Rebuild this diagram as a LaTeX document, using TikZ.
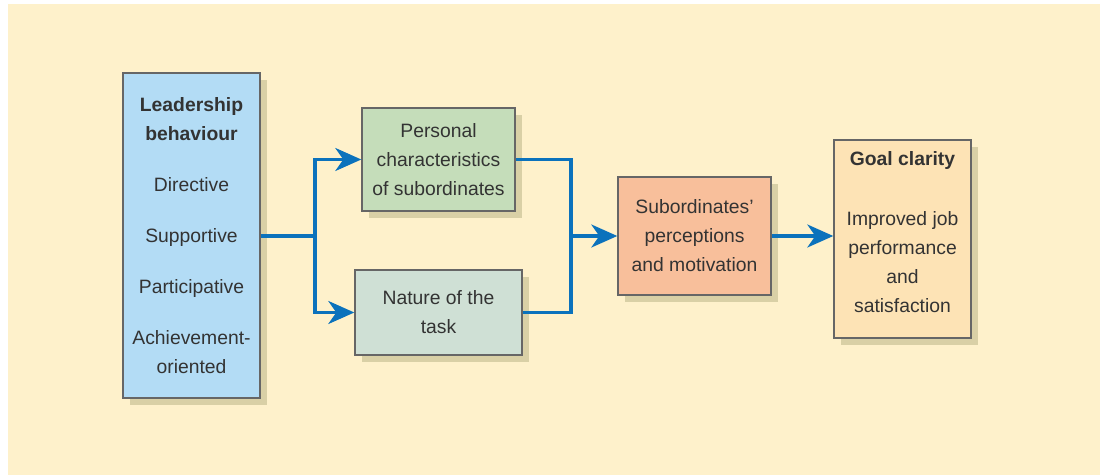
\documentclass[tikz,border=0pt]{standalone}
\usepackage{fontspec}
\setmainfont{Liberation Sans}
\usepackage{xcolor}
\usetikzlibrary{arrows.meta,positioning,shadows}

\definecolor{cream}{HTML}{FEF1CB}
\definecolor{shade}{HTML}{D9D0A6}
\definecolor{leadblue}{HTML}{B3DCF5}
\definecolor{persgreen}{HTML}{C5DDBA}
\definecolor{taskgreen}{HTML}{CFE0D5}
\definecolor{subsalmon}{HTML}{F8BF9B}
\definecolor{goalpeach}{HTML}{FDE3B5}
\definecolor{flowblue}{HTML}{0B72BC}
\definecolor{inkgrey}{HTML}{333333}

\begin{document}
\begin{tikzpicture}[
    font=\fontsize{11}{16.5}\selectfont,
    box/.style={draw=black!60, line width=0.8pt, align=center, text=inkgrey,
                inner sep=0pt,
                drop shadow={shadow xshift=0.14cm, shadow yshift=-0.14cm,
                             fill=shade, opacity=1}},
    flow/.style={line width=1.8pt, flowblue},
    flowarrow/.style={flow, -{Stealth[length=5.2mm, width=4.6mm, inset=1.6mm]}}
]

% ---------- background ----------
\fill[white] (0,0) rectangle (22,-9.5);
\fill[cream] (0.16,-0.08) rectangle (22,-9.5);
\useasboundingbox (0,0) rectangle (22,-9.5);

% ---------- boxes ----------
\node[box, fill=leadblue, minimum width=2.74cm, minimum height=6.5cm] (lead) at (3.83,-4.71)
   {\textbf{Leadership}\\\textbf{behaviour}\\[12.5pt]
    Directive\\[12.5pt] Supportive\\[12.5pt] Participative\\[12.5pt]
    Achievement-\\oriented};
\node[box, fill=persgreen, minimum width=3.06cm, minimum height=2.06cm] (pers) at (8.77,-3.19)
   {Personal\\characteristics\\of subordinates};
\node[box, fill=taskgreen, minimum width=3.34cm, minimum height=1.7cm] (task) at (8.77,-6.25)
   {Nature of the\\task};
\node[box, fill=subsalmon, minimum width=3.06cm, minimum height=2.36cm] (subp) at (13.89,-4.72)
   {Subordinates'\\perceptions\\and motivation};
\node[box, fill=goalpeach, minimum width=2.74cm, minimum height=3.96cm,
      text depth=8pt] (goal) at (18.05,-4.78)
   {\textbf{Goal clarity}\\[18pt]Improved job\\performance\\and\\satisfaction};

% ---------- connectors ----------
\coordinate (split) at (6.3,-4.72);
\coordinate (merge) at (11.42,-4.72);
\draw[flow] (lead.east |- split) -- (split);
\draw[flowarrow] (split) |- (pers.west);
\draw[flowarrow] (split) |- (task.west);
\draw[flow] (pers.east) -| (merge);
\draw[flow] (task.east) -| (merge);
\draw[flowarrow] (merge) -- (subp.west);
\draw[flowarrow] (subp.east) -- (goal.west |- subp.east);

\end{tikzpicture}
\end{document}
